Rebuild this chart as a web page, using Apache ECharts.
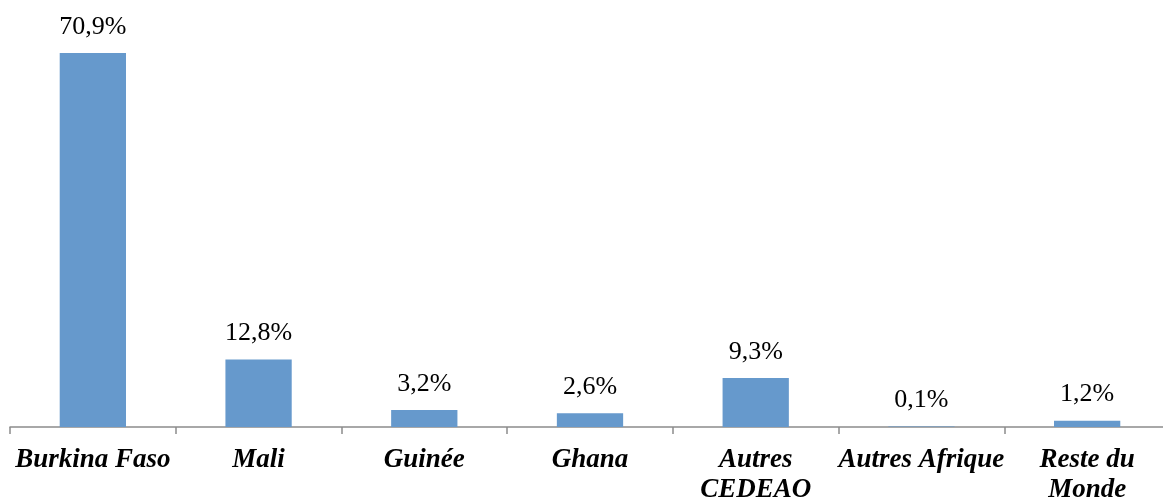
<!DOCTYPE html>
<html style="height: 100%">

<head>
  <meta charset="UTF-8" />
  <title>Répartition par destination</title>
  <script src="https://cdn.jsdelivr.net/npm/echarts@6/dist/echarts.min.js"></script>
</head>

<body style="height: 100%; margin: 0; background: #fff">
  <div id="main" style="width: 1163px; height: 500px"></div>
  <script>
    const categories = ['Burkina Faso', 'Mali', 'Guinée', 'Ghana', 'Autres\nCEDEAO', 'Autres Afrique', 'Reste du\nMonde'];
    const shares = [70.9, 12.8, 3.2, 2.6, 9.3, 0.1, 1.2];

    const chart = echarts.init(document.getElementById('main'));

    const option = {
      animation: false,
      grid: {
        left: 10,
        top: 5,
        width: 1160,
        height: 422,
        containLabel: false,
        outerBoundsMode: 'none',
      },
      xAxis: {
        type: 'category',
        data: categories,
        axisLine: { show: true, lineStyle: { color: '#8c8c8c', width: 1.5 } },
        axisTick: { show: true, length: 7, lineStyle: { color: '#8c8c8c', width: 1.5 } },
        axisLabel: {
          interval: 0,
          margin: 18,
          fontFamily: 'Liberation Serif',
          fontStyle: 'italic',
          fontWeight: 'bold',
          fontSize: 27,
          lineHeight: 30,
          color: '#000',
        },
      },
      yAxis: {
        type: 'value',
        min: 0,
        max: 80,
        show: false,
        splitLine: { show: false },
      },
      series: [
        {
          type: 'bar',
          data: shares,
          barWidth: '40%',
          itemStyle: { color: '#6699cc' },
          label: {
            show: true,
            position: 'top',
            distance: 13,
            fontFamily: 'Liberation Serif',
            fontSize: 26,
            color: '#000',
            formatter: function (p) {
              return p.value.toFixed(1).replace('.', ',') + '%';
            },
          },
        },
      ],
    };

    chart.setOption(option);
  </script>
</body>

</html>
